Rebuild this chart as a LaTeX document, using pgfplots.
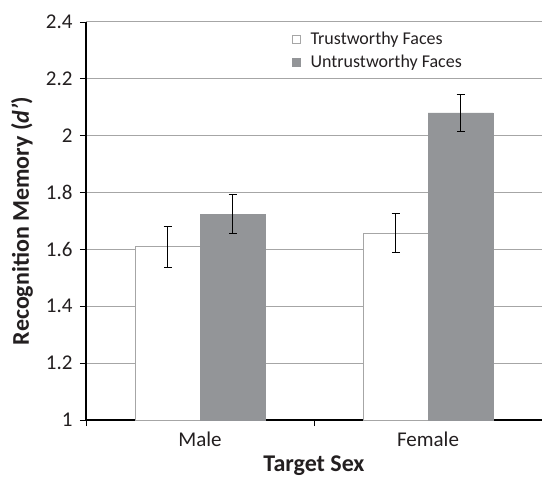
\documentclass[border=0pt]{standalone}
\usepackage{fontspec}
\setmainfont{Carlito}
\usepackage{pgfplots}
\pgfplotsset{compat=1.18}
\definecolor{barg}{HTML}{939598}
\definecolor{gridg}{HTML}{A6A6A6}
\definecolor{txt}{HTML}{231F20}
\begin{document}
\begin{tikzpicture}
\begin{axis}[
  scale only axis,
  width=456pt, height=398pt,
  ybar=0pt, bar width=65pt,
  xmin=0.5, xmax=2.5,
  ymin=1, ymax=2.4,
  ytick={1,1.2,...,2.4},
  xtick={1,2}, xticklabels={Male,Female},
  minor xtick={0.5,1.5,2.5},
  major x tick style={draw=none},
  tick align=outside,
  minor tick length=6pt, major tick length=6pt,
  axis lines*=left,
  axis line style={black, line width=1.8pt},
  tick style={black, line width=0.8pt},
  ymajorgrids,
  grid style={gridg, line width=1pt},
  /pgf/number format/assume math mode=true,
  ticklabel style={font=\fontsize{21}{23}\selectfont, text=txt},
  yticklabel style={xshift=-4pt},
  xticklabel style={yshift=-2pt},
  xlabel={\textbf{Target Sex}},
  ylabel={\textbf{Recognition Memory (\textit{d'})}},
  label style={font=\fontsize{24}{26}\selectfont, text=txt},
  xlabel style={at={(axis description cs:0.5,0)}, anchor=base, yshift=-51pt},
  ylabel style={at={(axis description cs:0,0.5)}, anchor=center, yshift=64pt},
  legend cell align=left,
  legend style={at={(0.445,0.985)}, anchor=north west, draw=none, fill=none,
    font=\fontsize{18}{20}\selectfont, text=txt, row sep=5pt},
  legend image code/.code={\draw[#1, line width=0.8pt] (0pt,-4pt) rectangle (8pt,4pt);
    \path[draw=none, fill=none] (0pt,0pt) -- (16pt,0pt);},
  error bars/y dir=both, error bars/y explicit,
  error bars/error bar style={black, line width=0.8pt},
  error bars/error mark options={rotate=90, mark size=4pt, line width=0.8pt},
]
\addplot[fill=white, draw=gridg, line width=1pt] coordinates {
  (1,1.61) +- (0,0.072)
  (2,1.657) +- (0,0.069)
};
\addplot[fill=barg, draw=barg] coordinates {
  (1,1.724) +- (0,0.068)
  (2,2.08) +- (0,0.065)
};
\legend{Trustworthy Faces, Untrustworthy Faces}
\end{axis}
\pgfresetboundingbox
\path ([shift={(-86pt,-58pt)}]current axis.south west) rectangle ([shift={(0pt,22pt)}]current axis.north east);
\end{tikzpicture}
\end{document}
